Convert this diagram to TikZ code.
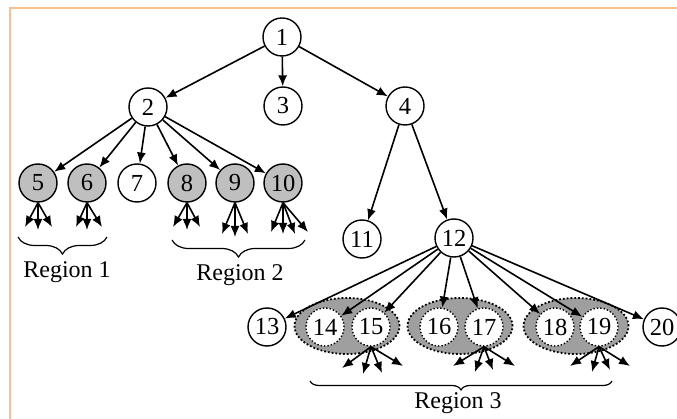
\documentclass[tikz,border=0pt]{standalone}
\usepackage{fontspec}
\setmainfont{Liberation Serif}
\usetikzlibrary{arrows.meta,shapes.geometric,decorations.pathreplacing}
\definecolor{peach}{RGB}{248,192,144}

\begin{document}
\begin{tikzpicture}[x=1pt,y=-1pt,
    vertex/.style={circle,draw,line width=1.4pt,minimum size=38pt,inner sep=0pt,
                   font=\fontsize{24.5}{24}\selectfont},
    shaded/.style={vertex,fill=lightgray},
    inner/.style={vertex,fill=white,dotted},
    group/.style={ellipse,draw,dotted,line width=1.8pt,fill=gray!75,
                  minimum width=105pt,minimum height=56pt,inner sep=0pt},
    edge/.style={-{Latex[length=11pt,width=9pt]},line width=1.6pt},
    region/.style={decorate,decoration={brace,mirror,amplitude=#1},line width=1.2pt},
    regtext/.style={font=\fontsize{24}{24}\selectfont}]
    \useasboundingbox (0,0) rectangle (677,419);
    \draw[peach,line width=2.4pt] (10,419) -- (10,8) -- (677,8);

    % groups behind the circles
    \node[group] (e1) at (347,326) {};
    \node[group] (e2) at (460,326) {};
    \node[group] (e3) at (576,326) {};

    \node[vertex] (n1) at (282,37) {1};
    \node[vertex] (n2) at (148,107) {2};
    \node[vertex] (n3) at (283,106) {3};
    \node[vertex] (n4) at (405,106) {4};
    \node[shaded] (n5) at (38,183) {5};
    \node[shaded] (n6) at (87,183) {6};
    \node[vertex] (n7) at (137,183) {7};
    \node[shaded] (n8) at (187,183) {8};
    \node[shaded] (n9) at (235,183) {9};
    \node[shaded] (n10) at (283,183) {10};
    \node[vertex] (n11) at (362,239) {11};
    \node[vertex] (n12) at (454,238) {12};
    \node[vertex] (n13) at (267,327) {13};
    \node[inner] (n14) at (325,327) {14};
    \node[inner] (n15) at (371,327) {15};
    \node[inner] (n16) at (439,327) {16};
    \node[inner] (n17) at (484,327) {17};
    \node[inner] (n18) at (555,327) {18};
    \node[inner] (n19) at (599,327) {19};
    \node[vertex] (n20) at (662,327) {20};

    \foreach \a/\b in {n1/n2,n1/n3,n1/n4,n2/n5,n2/n6,n2/n7,n2/n8,n2/n9,n2/n10,
                       n4/n11,n4/n12,n12/n13,n12/n14,n12/n15,n12/n16,n12/n17,
                       n12/n18,n12/n19,n12/n20}
        \draw[edge] (\a) -- (\b);

    % unnamed children
    \coordinate (c5a) at (25,227);  \coordinate (c5b) at (38,230);  \coordinate (c5c) at (52,227);
    \coordinate (c6a) at (76,227);  \coordinate (c6b) at (87,230);  \coordinate (c6c) at (102,227);
    \coordinate (c8a) at (173,227); \coordinate (c8b) at (187,230); \coordinate (c8c) at (200,227);
    \coordinate (c9a) at (222,234); \coordinate (c9b) at (235,237); \coordinate (c9c) at (248,234);
    \coordinate (c10a) at (271,232); \coordinate (c10b) at (283,234);
    \coordinate (c10c) at (295,234); \coordinate (c10d) at (308,232);
    \coordinate (c15a) at (342,368); \coordinate (c15b) at (363,374);
    \coordinate (c15c) at (382,373); \coordinate (c15d) at (403,366);
    \coordinate (c17a) at (453,366); \coordinate (c17b) at (475,372);
    \coordinate (c17c) at (493,370); \coordinate (c17d) at (515,366);
    \coordinate (c19a) at (570,366); \coordinate (c19b) at (592,372);
    \coordinate (c19c) at (610,370); \coordinate (c19d) at (630,366);

    \foreach \n/\k in {5/a,5/b,5/c,6/a,6/b,6/c,8/a,8/b,8/c,9/a,9/b,9/c,
                       10/a,10/b,10/c,10/d,15/a,15/b,15/c,15/d,
                       17/a,17/b,17/c,17/d,19/a,19/b,19/c,19/d}
        \draw[edge] (n\n.south) -- (c\n\k);

    % regions
    \coordinate (r1a) at (18,237);  \coordinate (r1b) at (107,237);
    \coordinate (r2a) at (172,240); \coordinate (r2b) at (305,240);
    \coordinate (r3a) at (310,381); \coordinate (r3b) at (612,381);
    \draw[region=17pt] (r1a) -- (r1b);
    \draw[region=17pt] (r2a) -- (r2b);
    \draw[region=9pt] (r3a) -- (r3b);
    \node[regtext] (reg1) at (67,272) {Region 1};
    \node[regtext] (reg2) at (240,275) {Region 2};
    \node[regtext] (reg3) at (458,403) {Region 3};
\end{tikzpicture}
\end{document}
